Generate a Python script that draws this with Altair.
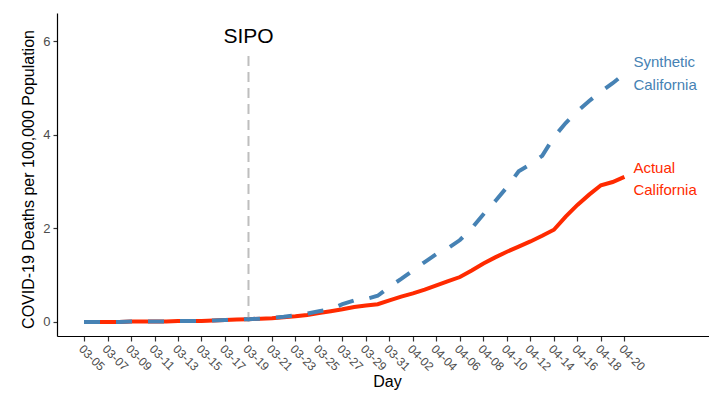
import altair as alt
import pandas as pd

# Day index 0 = 03-05 ... 46 = 04-20
days = list(range(47))
actual = [0.00, 0.00, 0.00, 0.00, 0.01, 0.01, 0.01, 0.01, 0.02, 0.02,
          0.02, 0.03, 0.04, 0.05, 0.06, 0.07, 0.08, 0.10, 0.12, 0.15,
          0.19, 0.23, 0.27, 0.32, 0.35, 0.38, 0.46, 0.54, 0.61, 0.69,
          0.78, 0.87, 0.96, 1.10, 1.25, 1.38, 1.50, 1.61, 1.72, 1.84,
          1.97, 2.25, 2.50, 2.72, 2.92, 2.99, 3.10]
synthetic = [0.00, 0.00, 0.00, 0.00, 0.01, 0.01, 0.01, 0.01, 0.02, 0.02,
             0.02, 0.03, 0.04, 0.05, 0.06, 0.07, 0.09, 0.11, 0.14, 0.18,
             0.23, 0.27, 0.38, 0.46, 0.49, 0.56, 0.75, 0.92, 1.10, 1.28,
             1.45, 1.58, 1.75, 2.00, 2.30, 2.58, 2.88, 3.22, 3.37, 3.55,
             3.95, 4.25, 4.50, 4.72, 4.92, 5.10, 5.30]
tick_days = list(range(0, 47, 2))
sipo_day = 14

label_text = ["Synthetic", "California", "Actual", "California"]
label_day = [46, 46, 46, 46]
label_value = [5.55, 5.06, 3.29, 2.82]
label_color = ["#4682B4", "#4682B4", "#FF2A00", "#FF2A00"]

df_a = pd.DataFrame({"day": days, "value": actual})
df_s = pd.DataFrame({"day": days, "value": synthetic})
df_rule = pd.DataFrame({"day": [sipo_day], "value": [0.0], "value2": [5.7]})
df_sipo = pd.DataFrame({"day": [sipo_day], "value": [5.95], "text": ["SIPO"]})
df_lab = pd.DataFrame({"day": label_day, "value": label_value,
                       "text": label_text, "color": label_color})

FONT = "Liberation Sans"

x_enc = alt.X(
    "day:Q",
    scale=alt.Scale(domain=[-2.3, 53.2], nice=False, zero=False),
    axis=alt.Axis(
        values=tick_days,
        labelExpr="timeFormat(datetime(2020, 2, 5 + datum.value), '%m-%d')",
        labelAngle=45, labelAlign="left", labelBaseline="top",
        labelFontSize=12, labelColor="#4D4D4D", labelPadding=2,
        labelFont=FONT, labelOverlap=False, labelBound=False, labelFlush=False,
        grid=False, domainColor="black", domainWidth=1.2,
        tickColor="#333333", tickSize=5, tickWidth=1.2,
        title="Day", titleFont=FONT, titleFontSize=16, titleFontWeight="normal",
        titleColor="black", titleY=37, titleX=330, titleBaseline="top",
    ),
)
y_enc = alt.Y(
    "value:Q",
    scale=alt.Scale(domain=[-0.3, 6.6], nice=False, zero=False),
    axis=alt.Axis(
        values=[0, 2, 4, 6], format="d",
        labelFontSize=13, labelColor="#4D4D4D", labelFont=FONT, labelPadding=3,
        grid=False, domainColor="black", domainWidth=1.2,
        tickColor="#333333", tickSize=4, tickWidth=1.2,
        title="COVID-19 Deaths per 100,000 Population", titleFont=FONT,
        titleFontSize=16, titleFontWeight="normal", titleColor="black",
        titleX=-21, titleY=166,
    ),
)

line_a = alt.Chart(df_a).mark_line(color="#FF2A00", strokeWidth=4).encode(x=x_enc, y=y_enc)
line_s = alt.Chart(df_s).mark_line(color="#4682B4", strokeWidth=4,
                                   strokeDash=[16, 16]).encode(x=x_enc, y=y_enc)
rule = alt.Chart(df_rule).mark_rule(color="#BEBEBE", strokeWidth=2,
                                    strokeDash=[10, 6]).encode(
    x=x_enc, y=y_enc, y2="value2:Q")
sipo = alt.Chart(df_sipo).mark_text(fontSize=21, font=FONT, color="black",
                                    baseline="alphabetic", align="center").encode(
    x=x_enc, y=y_enc, text="text:N")
labels = alt.Chart(df_lab).mark_text(fontSize=15, font=FONT, align="left",
                                     baseline="middle", dx=9).encode(
    x=x_enc, y=y_enc, text="text:N",
    color=alt.Color("color:N", scale=None))

chart = alt.layer(line_a, rule, line_s, sipo, labels).properties(
    width=652, height=323,
    background="white",
    autosize=alt.AutoSizeParams(type="none"),
    padding={"left": 49, "top": 5, "right": 0, "bottom": 55},
).configure_view(stroke=None).configure_axis(labelOverlap=False)

chart.save("out.html", embed_options={"renderer": "svg", "actions": False})
